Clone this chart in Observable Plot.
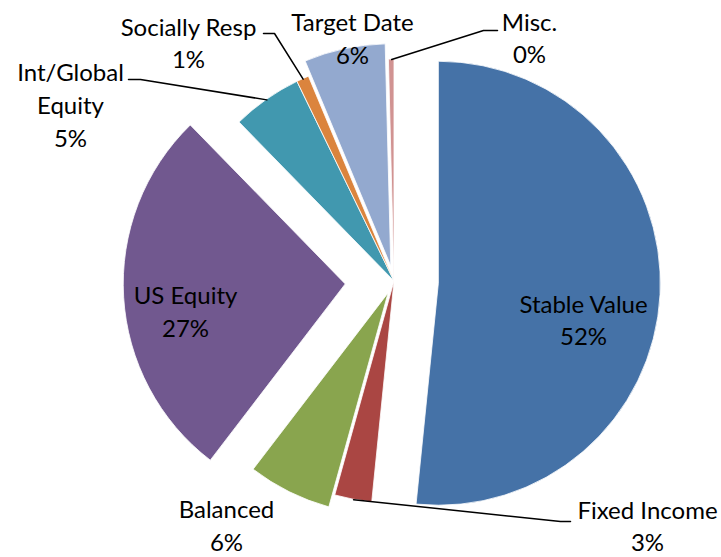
<!DOCTYPE html>
<html>
<head>
<meta charset="utf-8">
<script src="https://cdn.jsdelivr.net/npm/d3@7"></script>
<script src="https://cdn.jsdelivr.net/npm/@observablehq/plot@0.6"></script>
<style>
  html, body { margin: 0; padding: 0; background: #fff; }
  #chart svg { display: block; }
</style>
</head>
<body>
<div id="chart"></div>
<script>
// ---- data ----
const categories = ["Stable Value", "Fixed Income", "Balanced", "US Equity", "Int/Global Equity", "Socially Resp", "Target Date", "Misc."];
const shares = [51.6, 2.7, 6.1, 27.3, 5.1, 0.9, 5.9, 0.4];
const percentLabels = ["52%", "3%", "6%", "27%", "5%", "1%", "6%", "0%"];

// ---- style / layout ----
const colors = ["#4572A7", "#AA4643", "#89A54E", "#71588F", "#4198AF", "#DB843D", "#93A9CF", "#D19392"];
const explodeFrac = [0.2, 0, 0.06, 0.22, 0, 0, 0.07, 0];
const W = 721, H = 557, CX = 394, CY = 281, R = 222;
const labelNames = {"Int/Global Equity": "Int/Global\nEquity"};
// label block centres, in px offset from pie centre (y up)
const labelPos = {
  "Stable Value": [189, -37],
  "Fixed Income": [253, -243],
  "Balanced": [-168, -242.5],
  "US Equity": [-209, -28.5],
  "Int/Global Equity": [-324, 178],
  "Socially Resp": [-206, 240],
  "Target Date": [-42, 244.5],
  "Misc.": [135, 245]
};
// leader line: [text end, elbow], px offset from centre (y up); third point is the slice edge
const leaders = {
  "Socially Resp": [[-131, 248], [-120, 248]],
  "Int/Global Equity": [[-266, 202], [-254, 202]],
  "Misc.": [[103, 251], [89, 251]],
  "Fixed Income": [[176, -240], [166, -240]]
};

const pie = d3.pie().sort(null).value(d => d.share).startAngle(0).endAngle(2 * Math.PI);
const rows = categories.map((c, i) => ({category: c, share: shares[i], pct: percentLabels[i], color: colors[i], explode: explodeFrac[i]}));
const arcs = pie(rows);
arcs.forEach(a => { a.mid = (a.startAngle + a.endAngle) / 2; });

const labelRows = arcs.map(a => ({
  x: labelPos[a.data.category][0],
  y: labelPos[a.data.category][1],
  text: (labelNames[a.data.category] || a.data.category) + "\n" + a.data.pct
}));

const leaderRows = [];
for (const a of arcs) {
  const L = leaders[a.data.category];
  if (!L) continue;
  const off = a.data.explode * R;
  const sx = (R + off) * Math.sin(a.mid), sy = (R + off) * Math.cos(a.mid);
  leaderRows.push({cat: a.data.category, x: L[0][0], y: L[0][1]});
  leaderRows.push({cat: a.data.category, x: L[1][0], y: L[1][1]});
  leaderRows.push({cat: a.data.category, x: sx, y: sy});
}

function pieMark(index, scales) {
  const g = d3.create("svg:g");
  const x0 = scales.x(0), y0 = scales.y(0);
  const rpx = scales.x(R) - scales.x(0);
  const arc = d3.arc().innerRadius(0).outerRadius(rpx);
  g.selectAll("path")
    .data(arcs)
    .join("path")
    .attr("d", arc)
    .attr("fill", a => a.data.color)
    .attr("stroke", "#fff")
    .attr("stroke-width", 0.8)
    .attr("stroke-linejoin", "round")
    .attr("transform", a => {
      const off = a.data.explode * rpx;
      return `translate(${x0 + off * Math.sin(a.mid)},${y0 - off * Math.cos(a.mid)})`;
    });
  return g.node();
}

const chart = Plot.plot({
  width: W,
  height: H,
  margin: 0,
  style: {fontFamily: "Lato, 'Noto Sans', sans-serif", background: "#fff"},
  x: {type: "linear", domain: [-CX, W - CX], range: [0, W], axis: null},
  y: {type: "linear", domain: [-(H - CY), CY], range: [H, 0], axis: null},
  marks: [
    pieMark,
    Plot.line(leaderRows, {x: "x", y: "y", z: "cat", stroke: "#000", strokeWidth: 1.5}),
    Plot.text(labelRows, {x: "x", y: "y", text: "text", fill: "#000", fontSize: 24, lineHeight: 1.36, lineAnchor: "middle", textAnchor: "middle"})
  ]
});
document.getElementById("chart").appendChild(chart);
</script>
</body>
</html>
